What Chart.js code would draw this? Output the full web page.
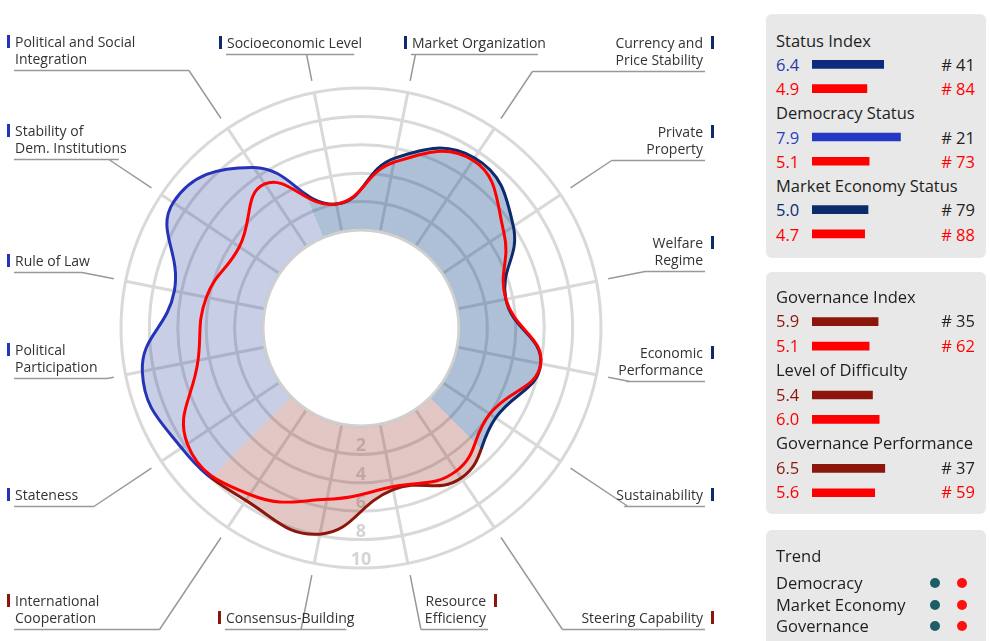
<!DOCTYPE html>
<html><head><meta charset="utf-8">
<script src="https://cdn.jsdelivr.net/npm/chart.js@4.4.1/dist/chart.umd.min.js"></script>
<style>
html,body{margin:0;padding:0;background:#fff;}
body{width:990px;height:641px;position:relative;overflow:hidden;font-family:"Open Sans",sans-serif;}
#main{position:absolute;left:0;top:0;}
.lbl{position:absolute;font-size:14px;line-height:17px;color:#333;white-space:nowrap;}
.mk{position:absolute;width:3px;height:13px;}
.box{position:absolute;left:766px;width:220px;background:#e8e8e8;border-radius:6px;}
.t{position:absolute;white-space:nowrap;font-size:16.5px;line-height:20px;color:#1e1e1e;}
.dot{position:absolute;width:10px;height:10px;border-radius:50%;}
.pc{position:absolute;}
</style></head><body>
<canvas id="main" width="990" height="641"></canvas>
<div id="labels"></div>
<div id="panel"></div>
<script>
// ---------- data ----------
const categories = ["Socioeconomic Level","Market Organization","Currency and Price Stability","Private Property","Welfare Regime","Economic Performance","Sustainability","Steering Capability","Resource Efficiency","Consensus-Building","International Cooperation","Stateness","Political Participation","Rule of Law","Stability of Dem. Institutions","Political and Social Integration"];
const labelLines = [["Socioeconomic Level"],["Market Organization"],["Currency and","Price Stability"],["Private","Property"],["Welfare","Regime"],["Economic","Performance"],["Sustainability"],["Steering Capability"],["Resource","Efficiency"],["Consensus-Building"],["International","Cooperation"],["Stateness"],["Political","Participation"],["Rule of Law"],["Stability of","Dem. Institutions"],["Political and Social","Integration"]];
const categoryGroups = ["mkt","mkt","mkt","mkt","mkt","mkt","mkt","gov","gov","gov","gov","dem","dem","dem","dem","dem"];
const countryScores    = [2.0, 5.3, 7.5, 6.0, 3.5, 6.0, 4.5, 5.8, 4.7, 7.9, 7.7, 8.3, 8.8, 6.5, 9.0, 6.7];
const comparisonScores = [2.0, 5.0, 7.3, 5.2, 3.5, 6.0, 4.0, 5.2, 4.5, 5.4, 7.2, 7.8, 4.8, 4.2, 3.4, 5.3];
const tickValues = [2, 4, 6, 8, 10];

const statusLabels = ["Status Index","Democracy Status","Market Economy Status"];
const statusCountry = [6.4, 7.9, 5.0];
const statusCompare = [4.9, 5.1, 4.7];
const statusRankCountry = ["# 41","# 21","# 79"];
const statusRankCompare = ["# 84","# 73","# 88"];
const govLabels = ["Governance Index","Level of Difficulty","Governance Performance"];
const govCountry = [5.9, 5.4, 6.5];
const govCompare = [5.1, 6.0, 5.6];
const govRankCountry = ["# 35","","# 37"];
const govRankCompare = ["# 62","","# 59"];
const trendLabels = ["Democracy","Market Economy","Governance"];

// ---------- styles ----------
const LINE_COLORS = {dem:"#2433b8", mkt:"#0c2a6c", gov:"#8c150c"};
const FILL_COLORS = {dem:"rgba(40,60,160,0.25)", mkt:"rgba(0,60,130,0.32)", gov:"rgba(140,30,20,0.25)"};
const RED = "#ff0000";
const TENSION = 0.45;

const labelLayout = [
 {x:227,y:42,align:"left"},{x:412,y:42,align:"left"},{x:703,y:42,align:"right"},{x:703,y:131,align:"right"},
 {x:703,y:242,align:"right"},{x:703,y:352,align:"right"},{x:703,y:494,align:"right"},{x:703,y:617,align:"right"},
 {x:486,y:600,align:"right"},{x:226,y:617,align:"left"},{x:15,y:600,align:"left"},{x:15,y:494,align:"left"},
 {x:15,y:349,align:"left"},{x:15,y:260,align:"left"},{x:15,y:130,align:"left"},{x:15,y:41,align:"left"}
];

// ---------- category labels (HTML) ----------
const labelsDiv = document.getElementById("labels");
const labelBoxes = [];
labelLines.forEach((lines, i) => {
  const L = labelLayout[i];
  const d = document.createElement("div");
  d.className = "lbl";
  d.style.textAlign = L.align;
  d.innerHTML = lines.join("<br>");
  d.style.top = (L.y - 8.5) + "px";
  labelsDiv.appendChild(d);
  const w = d.getBoundingClientRect().width;
  const left = L.align === "left" ? L.x : L.x - w;
  d.style.left = left + "px";
  const m = document.createElement("div");
  m.className = "mk";
  m.style.background = LINE_COLORS[categoryGroups[i]];
  m.style.top = (L.y - 6.5) + "px";
  m.style.left = (L.align === "left" ? L.x - 8 : L.x + 8) + "px";
  labelsDiv.appendChild(m);
  labelBoxes.push({left:left, right:left + w, uy: L.y + (lines.length - 1) * 17 + 12.5, align:L.align});
});

// ---------- helpers ----------
function sectorPaint(chart, palette) {
  const s = chart.scales && chart.scales.r;
  if (!s || !isFinite(s.xCenter) || !chart.ctx.createConicGradient) return palette.dem;
  const n = categories.length, step = 2 * Math.PI / n;
  const g = chart.ctx.createConicGradient(s.getIndexAngle(0) - Math.PI / 2 - step / 2, s.xCenter, s.yCenter);
  categoryGroups.forEach((grp, i) => { g.addColorStop(i / n, palette[grp]); g.addColorStop((i + 1) / n, palette[grp]); });
  return g;
}

const donutPlugin = {
  id: "donut",
  beforeDatasetsDraw(chart) {
    const s = chart.scales.r, ctx = chart.ctx;
    const r0 = s.getDistanceFromCenterForValue(0);
    ctx.save();
    ctx.beginPath(); ctx.arc(s.xCenter, s.yCenter, r0, 0, Math.PI * 2);
    ctx.fillStyle = "#fff"; ctx.fill();
    ctx.font = 'bold 18px "Open Sans"';
    ctx.fillStyle = "#d4d4d4"; ctx.textAlign = "center"; ctx.textBaseline = "alphabetic";
    tickValues.forEach(v => ctx.fillText(String(v), s.xCenter, s.yCenter + s.getDistanceFromCenterForValue(v) - 3));
    ctx.restore();
  },
  afterDatasetsDraw(chart) {
    const s = chart.scales.r, ctx = chart.ctx;
    ctx.save();
    ctx.beginPath(); ctx.arc(s.xCenter, s.yCenter, s.getDistanceFromCenterForValue(0), 0, Math.PI * 2);
    ctx.strokeStyle = "#d0d0d0"; ctx.lineWidth = 3; ctx.stroke();
    ctx.restore();
  },
  afterDraw(chart) {
    const s = chart.scales.r, ctx = chart.ctx;
    const R = s.drawingArea;
    ctx.save();
    ctx.strokeStyle = "#999"; ctx.lineWidth = 1.5;
    labelBoxes.forEach((b, i) => {
      const a = s.getIndexAngle(i) - Math.PI / 2;
      const p1 = s.getPointPosition(i, R + 12);
      const dist = (b.uy - s.yCenter) / Math.sin(a);
      const pj = s.getPointPosition(i, dist);
      ctx.beginPath();
      ctx.moveTo(p1.x, p1.y); ctx.lineTo(pj.x, b.uy);
      let x0, x1;
      if (b.align === "left") { x0 = Math.min(b.left - 1, pj.x); x1 = Math.max(b.right - 8, pj.x); }
      else { x0 = Math.min(b.left + 8, pj.x); x1 = Math.max(b.right + 2, pj.x); }
      ctx.moveTo(x0, b.uy); ctx.lineTo(x1, b.uy);
      ctx.stroke();
    });
    ctx.restore();
  }
};

new Chart(document.getElementById("main"), {
  type: "radar",
  data: {
    labels: categories,
    datasets: [
      {label:"Comparison", data: comparisonScores, borderColor: RED, borderWidth: 3, fill: false, pointRadius: 0, tension: TENSION},
      {label:"Country", data: countryScores,
       borderColor: ctx => sectorPaint(ctx.chart, LINE_COLORS),
       backgroundColor: ctx => sectorPaint(ctx.chart, FILL_COLORS),
       borderWidth: 3, fill: {value: 0}, pointRadius: 0, tension: TENSION}
    ]
  },
  options: {
    responsive: false, animation: false, events: [],
    layout: {padding: {left: 121, right: 389, top: 88, bottom: 73}},
    plugins: {legend: {display: false}, tooltip: {enabled: false}},
    scales: {r: {
      min: -6.9, max: 10, startAngle: -11.25,
      afterBuildTicks: sc => { sc.ticks = [0].concat(tickValues).map(v => ({value: v})); },
      ticks: {display: false},
      pointLabels: {display: false},
      grid: {circular: true, color: "#d9d9d9", lineWidth: 3},
      angleLines: {color: "#d9d9d9", lineWidth: 3}
    }}
  },
  plugins: [donutPlugin]
});

// ---------- side panel ----------
const panel = document.getElementById("panel");
function el(cls, css, html) {
  const d = document.createElement("div"); d.className = cls; Object.assign(d.style, css);
  if (html !== undefined) d.innerHTML = html; panel.appendChild(d); return d;
}
el("box", {top:"14px", height:"244px"});
el("box", {top:"272px", height:"242px"});
el("box", {top:"530px", height:"130px"});

function panelGroup(top, step, labels, cVals, pVals, cRanks, pRanks, cValColors, cBarColors, id) {
  const rows = [], colors = [];
  labels.forEach((lab, k) => {
    const y0 = top + step * (k * 3);
    el("t", {left:"776px", top:(y0 - 10) + "px"}, lab);
    el("t", {left:"776px", top:(y0 + step - 10) + "px", color:cValColors[k]}, cVals[k].toFixed(1));
    el("t", {left:"776px", top:(y0 + 2 * step - 10) + "px", color:RED}, pVals[k].toFixed(1));
    if (cRanks[k]) el("t", {right:(990 - 975) + "px", top:(y0 + step - 10) + "px", color:"#222"}, cRanks[k]);
    if (pRanks[k]) el("t", {right:(990 - 975) + "px", top:(y0 + 2 * step - 10) + "px", color:RED}, pRanks[k]);
    rows.push(null, cVals[k], pVals[k]);
    colors.push("rgba(0,0,0,0)", cBarColors[k], RED);
  });
  const cv = document.createElement("canvas");
  cv.id = id; cv.className = "pc"; cv.width = 112; cv.height = Math.round(step * 9);
  cv.style.left = "812px"; cv.style.top = (top - step / 2) + "px";
  panel.appendChild(cv);
  new Chart(cv, {
    type: "bar",
    data: {labels: rows.map((_, i) => "r" + i), datasets: [{data: rows, backgroundColor: colors, barThickness: 8, borderWidth: 0}]},
    options: {indexAxis: "y", responsive: false, animation: false, events: [], layout: {padding: 0},
      plugins: {legend: {display: false}, tooltip: {enabled: false}},
      scales: {x: {min: 0, max: 10, display: false}, y: {display: false}}}
  });
}
panelGroup(40.5, 24.25, statusLabels, statusCountry, statusCompare, statusRankCountry, statusRankCompare,
  ["#2b3ba8", "#2b3ec0", "#0c2a6c"], ["#0e2a7e", "#2438c4", "#0c2a6c"], "bars1");
panelGroup(297, 24.4, govLabels, govCountry, govCompare, govRankCountry, govRankCompare,
  ["#8c150c", "#8c150c", "#8c150c"], ["#8c150c", "#8c150c", "#8c150c"], "bars2");

el("t", {left:"776px", top:(556 - 10) + "px"}, "Trend");
trendLabels.forEach((lab, k) => {
  const y = 583 + k * 21.5;
  el("t", {left:"776px", top:(y - 10) + "px"}, lab);
  el("dot", {left:"930px", top:(y - 5) + "px", background:"#1d5e66"});
  el("dot", {left:"957px", top:(y - 5) + "px", background:"#ff1010"});
});
</script>
</body></html>
